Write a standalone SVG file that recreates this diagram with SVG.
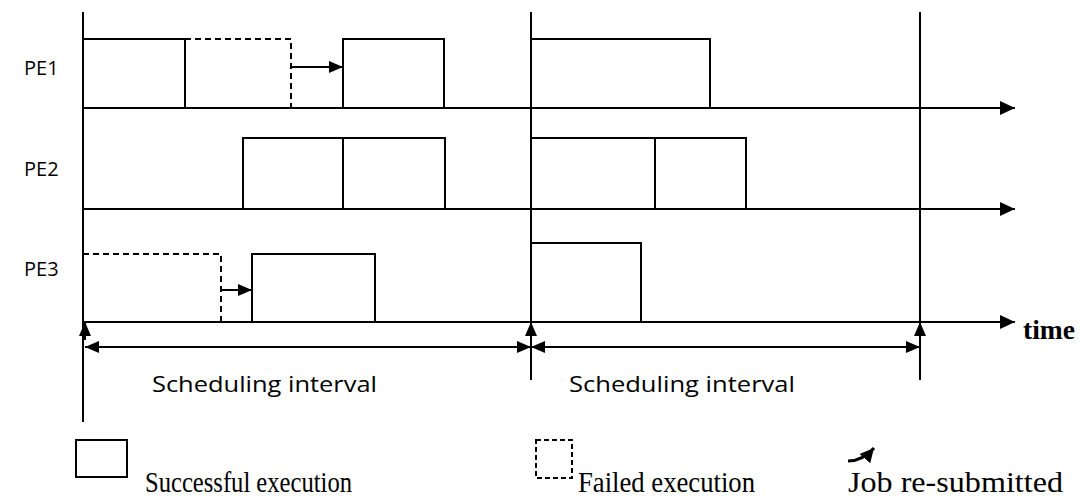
<svg xmlns="http://www.w3.org/2000/svg" width="1089" height="500" viewBox="0 0 1089 500">
<defs>
<marker id="ah" markerWidth="16" markerHeight="14" refX="15" refY="7" orient="auto" markerUnits="userSpaceOnUse"><path d="M0,0 L15,7 L0,14 Z" fill="#000"/></marker>
<marker id="ahs" markerWidth="16" markerHeight="14" refX="15" refY="7" orient="auto" markerUnits="userSpaceOnUse"><path d="M1,1 L15,7 L1,13 Z" fill="#000"/></marker>
<marker id="ahst" markerWidth="16" markerHeight="14" refX="15" refY="7" orient="auto-start-reverse" markerUnits="userSpaceOnUse"><path d="M1,1 L15,7 L1,13 Z" fill="#000"/></marker>
<marker id="ahc" markerWidth="16" markerHeight="16" refX="14" refY="8" orient="auto" markerUnits="userSpaceOnUse"><path d="M0,1 L14,8 L0,15 Z" fill="#000"/></marker>
</defs>
<style>
.ln{stroke:#000;stroke-width:2;fill:none}
.bx{stroke:#000;stroke-width:2;fill:none}
.ds{stroke:#000;stroke-width:2;fill:none;stroke-dasharray:6,4}
.lab{font-family:"Open Sans","Liberation Sans",sans-serif;font-size:20px;fill:#000}
.ser{font-family:"Liberation Serif",serif;font-size:29px;fill:#000}
</style>
<rect width="1089" height="500" fill="#fff"/>
<g id="labels">
<text class="lab" x="24" y="75">PE1</text>
<text class="lab" x="24" y="176">PE2</text>
<text class="lab" x="24" y="276">PE3</text>
</g>
<g id="pe1">
<rect class="bx" x="83" y="39" width="102" height="69"/>
<polyline class="ds" points="185,39 291,39 291,108"/>
<rect class="bx" x="343" y="39" width="101" height="69"/>
<rect class="bx" x="531" y="39" width="179" height="69"/>
</g>
<g id="pe2">
<rect class="bx" x="243" y="138" width="100" height="71"/>
<rect class="bx" x="343" y="138" width="102" height="71"/>
<rect class="bx" x="531" y="138" width="124" height="71"/>
<rect class="bx" x="655" y="138" width="91" height="71"/>
</g>
<g id="pe3">
<polyline class="ds" points="83,254 221,254 221,322"/>
<rect class="bx" x="252" y="254" width="123" height="68"/>
<rect class="bx" x="531" y="243" width="110" height="79"/>
</g>
<g id="connectors">
<line class="ln" x1="83" y1="12" x2="83" y2="422"/>
<line class="ln" x1="531" y1="12" x2="531" y2="380"/>
<line class="ln" x1="920" y1="12" x2="920" y2="380"/>
<line class="ln" x1="83" y1="108" x2="1015" y2="108" marker-end="url(#ah)"/>
<line class="ln" x1="83" y1="209" x2="1015" y2="209" marker-end="url(#ah)"/>
<line class="ln" x1="83" y1="322" x2="1015" y2="322" marker-end="url(#ah)"/>
<line class="ln" x1="291" y1="67" x2="343" y2="67" marker-end="url(#ahs)"/>
<line class="ln" x1="221" y1="290" x2="252" y2="290" marker-end="url(#ahs)"/>
<line class="ln" x1="85" y1="340" x2="85" y2="322" marker-end="url(#ahs)"/>
<line class="ln" x1="531" y1="340" x2="531" y2="322" marker-end="url(#ahs)"/>
<line class="ln" x1="920" y1="340" x2="920" y2="322" marker-end="url(#ahs)"/>
<line class="ln" x1="85" y1="347" x2="531" y2="347" marker-start="url(#ahst)" marker-end="url(#ahst)"/>
<line class="ln" x1="531" y1="347" x2="920" y2="347" marker-start="url(#ahst)" marker-end="url(#ahst)"/>
</g>
<g id="axis-text">
<text class="lab" x="152" y="392" textLength="225" lengthAdjust="spacingAndGlyphs" style="font-size:21px">Scheduling interval</text>
<text class="lab" x="569" y="392" textLength="226" lengthAdjust="spacingAndGlyphs" style="font-size:21px">Scheduling interval</text>
<text x="1023" y="339" textLength="52" lengthAdjust="spacingAndGlyphs" style="font-family:'Liberation Serif',serif;font-weight:bold;font-size:27px">time</text>
</g>
<g id="legend">
<rect class="bx" x="76" y="440" width="51" height="37"/>
<text class="ser" x="145" y="492" textLength="207" lengthAdjust="spacingAndGlyphs">Successful execution</text>
<rect class="ds" x="536" y="440" width="36" height="38" style="stroke-dasharray:5,3"/>
<text class="ser" x="578" y="492" textLength="177" lengthAdjust="spacingAndGlyphs">Failed execution</text>
<path d="M848,461 C860,461 868,455 874,448" style="stroke:#000;stroke-width:3;fill:none" marker-end="url(#ahc)"/>
<text class="ser" x="848" y="492" textLength="215" lengthAdjust="spacingAndGlyphs">Job re-submitted</text>
</g>
</svg>
